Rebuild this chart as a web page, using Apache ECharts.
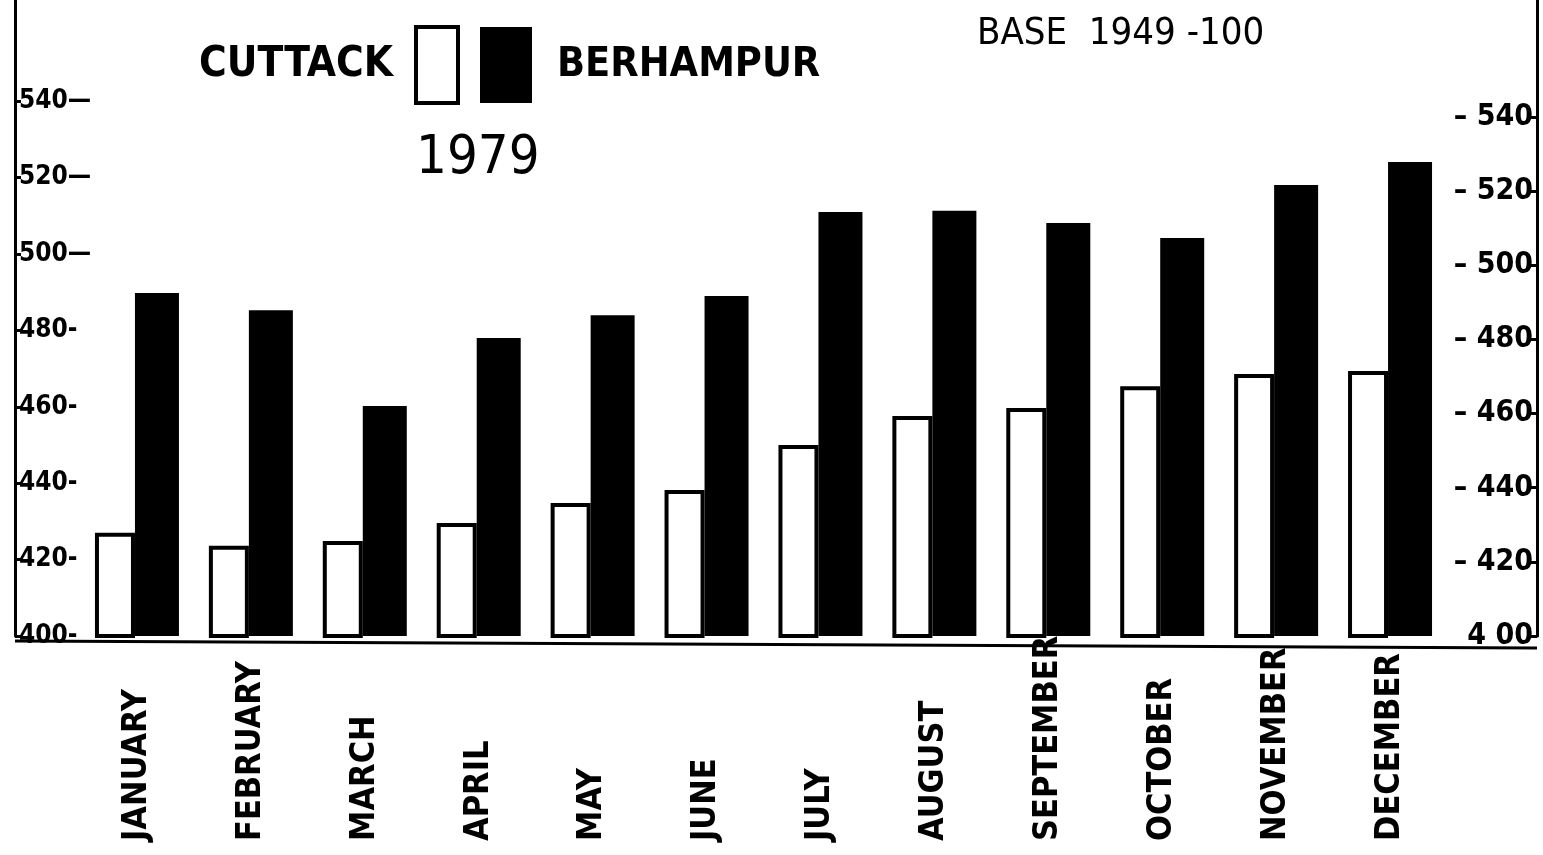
<!DOCTYPE html>
<html><head><meta charset="utf-8">
<script src="https://cdn.jsdelivr.net/npm/echarts@6/dist/echarts.min.js"></script>
<style>html,body{margin:0;padding:0;background:#fff}#c{width:1543px;height:855px}</style>
</head><body><div id="c"></div>
<script>
const months = ['JANUARY','FEBRUARY','MARCH','APRIL','MAY','JUNE','JULY','AUGUST','SEPTEMBER','OCTOBER','NOVEMBER','DECEMBER'];
const cuttack = [427.0, 423.6, 424.9, 429.6, 434.8, 438.2, 450.0, 457.6, 459.7, 465.4, 468.6, 469.4];
const berhampur = [489.8, 485.3, 460.2, 478.0, 484.0, 489.0, 511.0, 511.3, 508.1, 504.2, 518.1, 524.1];
const tickValues = [400, 420, 440, 460, 480, 500, 520, 540];

const FONT = '"DejaVu Sans Condensed", "Liberation Sans Narrow", sans-serif';
const chart = echarts.init(document.getElementById('c'));
chart.setOption({
  backgroundColor: '#fff',
  animation: false,
  title: [
    { text: '1979', left: 416, top: 132, padding: 0, textStyle: { fontFamily: FONT, fontSize: 54, fontWeight: 'normal', color: '#000' } },
    { text: 'BASE  1949 -100', left: 972, top: 10, textStyle: { fontFamily: FONT, fontSize: 38, fontWeight: 'normal', color: '#000' } }
  ],
  legend: [
    { data: ['CUTTACK'], right: 1083, top: 25, padding: 0, align: 'right', icon: 'rect', itemWidth: 42, itemHeight: 76,
      itemStyle: { borderWidth: 4, borderColor: '#000', color: '#fff' },
      textStyle: { fontFamily: FONT, fontSize: 42, fontWeight: 'bold', color: '#000', padding: [10, 18, 0, 0] } },
    { data: ['BERHAMPUR'], left: 480, top: 27, padding: 0, align: 'left', icon: 'rect', itemWidth: 52, itemHeight: 76,
      textStyle: { fontFamily: FONT, fontSize: 41, fontWeight: 'bold', color: '#000', padding: [10, 0, 0, 20] } }
  ],
  grid: { left: 80, right: 96, top: 0, bottom: 219, containLabel: false },
  xAxis: {
    type: 'category', data: months,
    axisLine: { show: false }, axisTick: { show: false },
    axisLabel: { rotate: 90, align: 'left', verticalAlign: 'middle', margin: 205, interval: 0,
      fontFamily: FONT, fontSize: 34, fontWeight: 'bold', color: '#000' }
  },
  yAxis: [
    { type: 'value', min: 400, max: 566.5, position: 'left', offset: 65,
      axisLine: { show: true, lineStyle: { color: '#000', width: 3 } },
      axisTick: { show: true, inside: true, length: 6, lineStyle: { color: '#000', width: 3 }, customValues: tickValues },
      axisLabel: { inside: true, customValues: tickValues, margin: 4, fontFamily: FONT, fontSize: 26, fontWeight: 'bold', color: '#000',
        formatter: v => v + (v >= 500 ? '—' : '-') },
      splitLine: { show: false } },
    { type: 'value', min: 400, max: 571.6, position: 'right', offset: 90,
      axisLine: { show: true, lineStyle: { color: '#000', width: 3 } },
      axisTick: { show: true, inside: true, length: 8, lineStyle: { color: '#000', width: 3 }, customValues: tickValues },
      axisLabel: { inside: true, customValues: tickValues, margin: 4, fontFamily: FONT, fontSize: 30, fontWeight: 'bold', color: '#000',
        formatter: v => (v === 400 ? '4 00' : '– ' + v) },
      splitLine: { show: false } }
  ],
  graphic: [
    { type: 'line', shape: { x1: 15, y1: 641, x2: 1537, y2: 648 }, style: { stroke: '#000', lineWidth: 3 } }
  ],
  series: [
    { name: 'CUTTACK', type: 'bar', data: cuttack, barWidth: 40, barGap: '0%',
      itemStyle: { color: '#fff', borderColor: '#000', borderWidth: 4 } },
    { name: 'BERHAMPUR', type: 'bar', data: berhampur, barWidth: 44,
      itemStyle: { color: '#000' } }
  ]
});
</script></body></html>
